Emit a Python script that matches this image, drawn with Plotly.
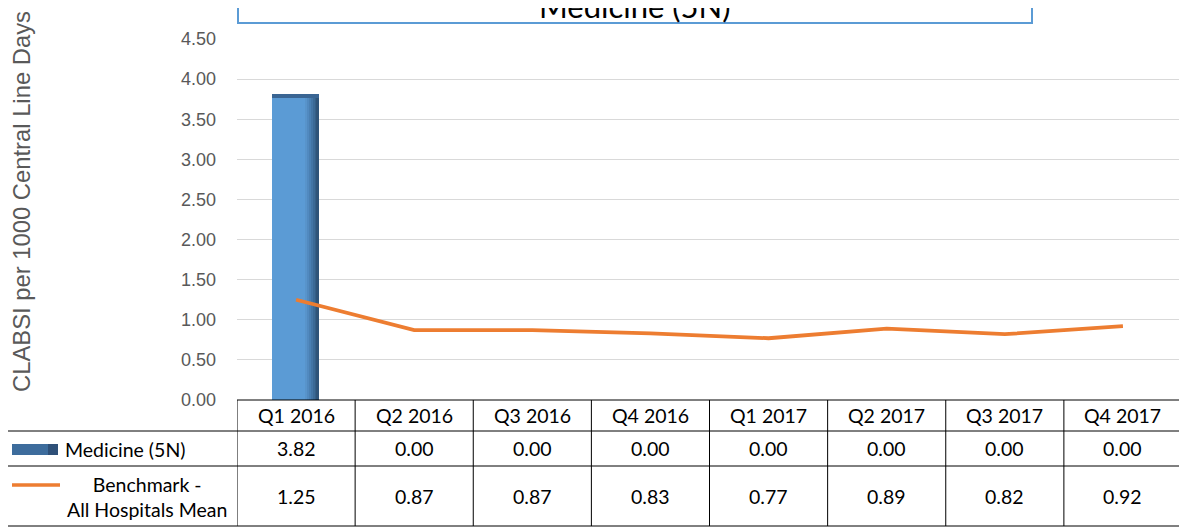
import plotly.graph_objects as go

categories = ["Q1 2016", "Q2 2016", "Q3 2016", "Q4 2016", "Q1 2017", "Q2 2017", "Q3 2017", "Q4 2017"]
medicine = [3.82, 0.00, 0.00, 0.00, 0.00, 0.00, 0.00, 0.00]
benchmark = [1.25, 0.87, 0.87, 0.83, 0.77, 0.89, 0.82, 0.92]
series_names = ["Medicine (5N)", "Benchmark -<br>All Hospitals Mean"]
title_text = "Medicine (5N)"
y_title = "CLABSI per 1000 Central Line Days"
y_ticks = [0, 0.5, 1, 1.5, 2, 2.5, 3, 3.5, 4, 4.5]

# page body margin offset (8px) compensation
OFF = 8
W, H = 1187 - OFF, 529 - OFF
PLOT_L, PLOT_R, PLOT_T, PLOT_B = 237, 1182, 39, 400  # page pixel positions
L = PLOT_L - OFF
T = PLOT_T - OFF
PW = PLOT_R - PLOT_L
PH = PLOT_B - PLOT_T
R = W - L - PW
B = H - T - PH


def px(x):
    return (x - PLOT_L) / PW


def py(y):
    return (PLOT_B - y) / PH


fig = go.Figure()

BLUE = "#5B9BD5"
bar_w = 0.39
bar_off = -0.2
bar_right = bar_off + bar_w
fig.add_trace(go.Bar(x=categories, y=medicine, width=bar_w, offset=bar_off,
                     marker=dict(color=BLUE, line=dict(width=0)), showlegend=False,
                     name=series_names[0]))
# right-edge shading (gradient imitation), each layer extends to the bar's right edge
shade_cols = ["#5894CB", "#518AC0", "#4A80B3", "#4375A5", "#3C6A96", "#355F87", "#2F5479"]
step = 0.016
start = bar_right - step * len(shade_cols)
for k, c in enumerate(shade_cols):
    o = start + k * step
    fig.add_trace(go.Bar(x=categories, y=medicine, width=bar_right - o, offset=o,
                         marker=dict(color=c, line=dict(width=0)), showlegend=False,
                         hoverinfo="skip"))
# dark top cap
cap = 0.05
fig.add_trace(go.Bar(x=categories, y=[cap if v > 0 else 0 for v in medicine],
                     base=[v - cap if v > 0 else 0 for v in medicine],
                     width=bar_w, offset=bar_off,
                     marker=dict(color="#3A6593", line=dict(width=0)), showlegend=False,
                     hoverinfo="skip"))

fig.add_trace(go.Scatter(x=categories, y=benchmark, mode="lines",
                         line=dict(color="#ED7D31", width=3.8), showlegend=False,
                         name="Benchmark"))

shapes = []
ann = []
LINE = dict(color="#000000", width=1)
# table grid
y_hdr_top, y_r1, y_r2, y_bot = 400, 431, 466, 526
shapes.append(dict(type="line", xref="x", yref="paper", x0=-0.5, x1=7.5,
                   y0=py(y_hdr_top), y1=py(y_hdr_top), line=LINE))
for yy in (y_r1, y_r2, y_bot):
    shapes.append(dict(type="line", xref="paper", yref="paper", x0=px(5), x1=1,
                       y0=py(yy), y1=py(yy), line=LINE))
shapes.append(dict(type="line", xref="paper", yref="paper", x0=px(5), x1=px(5),
                   y0=py(y_r1), y1=py(y_bot), line=LINE))
for k in range(len(categories) + 1):
    shapes.append(dict(type="line", xref="x", yref="paper", x0=-0.5 + k, x1=-0.5 + k,
                       y0=py(y_hdr_top), y1=py(y_bot), line=LINE))

TFONT = dict(family="Lato, Liberation Sans, sans-serif", size=19.5, color="#000000")
for i, c in enumerate(categories):
    ann.append(dict(x=c, xref="x", y=py((y_hdr_top + y_r1) / 2), yref="paper",
                    text=c, showarrow=False, font=TFONT, xanchor="center", yanchor="middle"))
    ann.append(dict(x=c, xref="x", y=py((y_r1 + y_r2) / 2), yref="paper",
                    text=f"{medicine[i]:.2f}", showarrow=False, font=TFONT,
                    xanchor="center", yanchor="middle"))
    ann.append(dict(x=c, xref="x", y=py((y_r2 + y_bot) / 2 + 1), yref="paper",
                    text=f"{benchmark[i]:.2f}", showarrow=False, font=TFONT,
                    xanchor="center", yanchor="middle"))

# legend keys in table
shapes.append(dict(type="rect", xref="paper", yref="paper", x0=px(12), x1=px(58),
                   y0=py(455), y1=py(444), fillcolor="#3D6C9C", line=dict(width=0)))
shapes.append(dict(type="rect", xref="paper", yref="paper", x0=px(48), x1=px(58),
                   y0=py(455), y1=py(444), fillcolor="#2E5078", line=dict(width=0)))
shapes.append(dict(type="line", xref="paper", yref="paper", x0=px(12), x1=px(60),
                   y0=py(485), y1=py(485), line=dict(color="#ED7D31", width=3.5)))
ann.append(dict(x=px(63), xref="paper", y=py(449), yref="paper", text=series_names[0],
                showarrow=False, font=TFONT, xanchor="left", yanchor="middle"))
ann.append(dict(x=px(147), xref="paper", y=py(497), yref="paper", text=series_names[1],
                showarrow=False, font=TFONT, xanchor="center", yanchor="middle", align="center"))

# title box
shapes.append(dict(type="rect", xref="paper", yref="paper", x0=px(238), x1=px(1032),
                   y0=py(23), y1=py(-20), fillcolor="#FFFFFF",
                   line=dict(color="#5B9BD5", width=2)))
ann.append(dict(x=px(635), xref="paper", y=py(6), yref="paper", text=title_text,
                showarrow=False, font=dict(family="Lato, Liberation Sans, sans-serif", size=31, color="#000000"),
                xanchor="center", yanchor="middle"))

# y axis title
ann.append(dict(x=px(21), xref="paper", y=py(202), yref="paper", text=y_title, textangle=-90,
                showarrow=False, font=dict(family="Liberation Sans, Arial, sans-serif", size=23.8, color="#595959"),
                xanchor="center", yanchor="middle"))

fig.update_layout(
    width=W, height=H,
    margin=dict(l=L, r=R, t=T, b=B, pad=0),
    paper_bgcolor="#FFFFFF", plot_bgcolor="#FFFFFF",
    barmode="overlay", bargap=0,
    shapes=shapes, annotations=ann,
    xaxis=dict(type="category", range=[-0.5, 7.5], showticklabels=False, showgrid=False,
               zeroline=False, showline=False, ticks=""),
    yaxis=dict(range=[0, 4.5], tickvals=y_ticks, ticktext=[f"{v:.2f}" for v in y_ticks],
               showgrid=True, gridcolor="#D9D9D9", gridwidth=1, zeroline=False, showline=False,
               ticks="", ticklabelstandoff=20,
               tickfont=dict(family="Liberation Sans, Arial, sans-serif", size=18, color="#595959")),
)

fig.write_html("out.html")
